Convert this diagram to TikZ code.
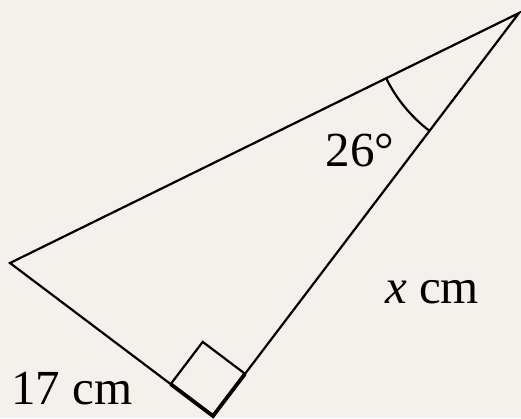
\documentclass[tikz,border=0pt]{standalone}
\usepackage{fontspec}
\setmainfont{Liberation Serif}
\usetikzlibrary{calc,angles}
\definecolor{bg}{HTML}{F4F1EC}
\begin{document}
\begin{tikzpicture}[x=1pt,y=-1pt,
  edge/.style={line width=2.2pt,line join=miter},
  lbl/.style={font=\fontsize{49}{58}\selectfont,anchor=base,inner sep=0pt}]
\fill[bg] (0,0) rectangle (521,418);
\useasboundingbox (0,0) rectangle (521,418);
\coordinate (A) at (10,263);
\coordinate (B) at (213,416);
\coordinate (C) at (519,13);
\draw[edge] (A) -- (B) -- (C) -- cycle;
\coordinate (S1) at ($(B)!53pt!(A)$);
\coordinate (S3) at ($(B)!53pt!(C)$);
\coordinate (S2) at ($(S1)+(S3)-(B)$);
\draw[edge] (S1) -- (S2) -- (S3);
\draw[line width=3.8pt] (S1) -- (B) -- (S3);
\draw[line width=2.2pt] pic[draw,line width=2.2pt,angle radius=148pt] {angle=A--C--B};
\node[lbl] (ang) at (360,166) {26°};
\node[lbl] (xl) at (432,303) {\textit{x} cm};
\node[lbl] (sl) at (72,404) {17 cm};
\end{tikzpicture}
\end{document}
